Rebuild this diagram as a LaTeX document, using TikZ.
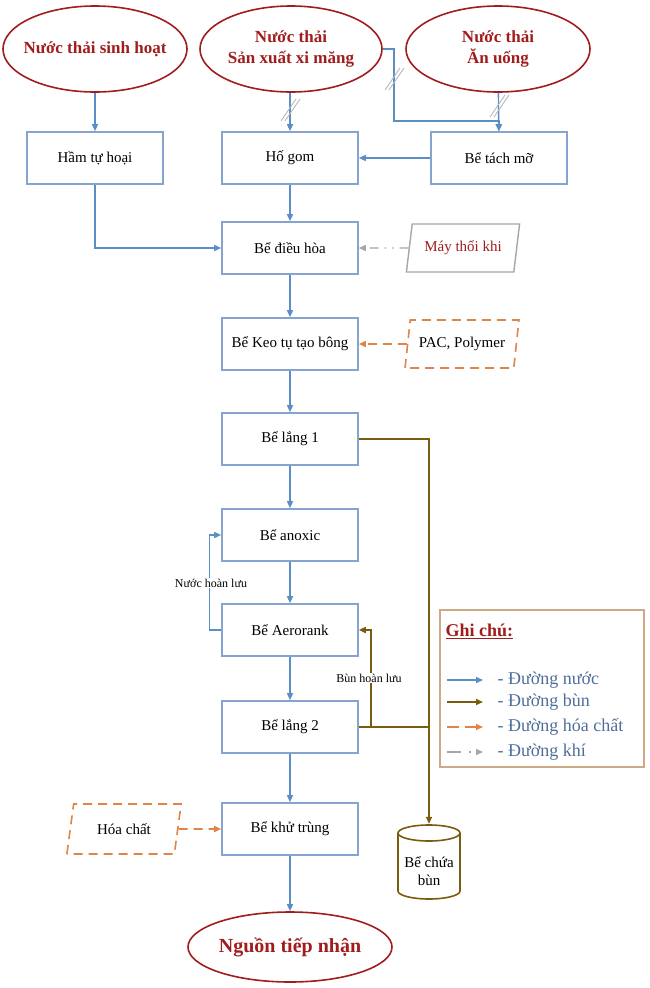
\documentclass[tikz,border=0pt]{standalone}
\usepackage{fontspec}
\setmainfont{Liberation Serif}
\usetikzlibrary{shapes.geometric,arrows.meta}
\definecolor{boxblue}{HTML}{86A4D0}
\definecolor{flowblue}{HTML}{5B8EC4}
\definecolor{srcred}{HTML}{A11C1C}
\definecolor{sludgecol}{HTML}{7A5C0E}
\definecolor{chemcol}{HTML}{E08447}
\definecolor{aircol}{HTML}{A6A6A6}
\definecolor{notetext}{HTML}{4F6E9A}
\definecolor{noteframe}{HTML}{CBAA85}

\tikzset{
  unit/.style={draw=boxblue, line width=1.6pt, minimum width=136pt, minimum height=52pt,
    font=\fontsize{15}{17}\selectfont},
  source/.style={ellipse, draw=srcred, line width=1.6pt, text=srcred,
    inner xsep=-28pt, inner ysep=0pt,
    minimum width=184pt, minimum height=86pt, align=center,
    font=\bfseries\fontsize{17}{21}\selectfont},
  input/.style={trapezium, trapezium left angle=77, trapezium right angle=103,
    trapezium stretches=true, minimum width=114pt, minimum height=48pt,
    font=\fontsize{15}{17}\selectfont},
  water/.style={draw=flowblue, line width=1.4pt, -{Triangle[length=7pt,width=6pt]}},
  sludge/.style={draw=sludgecol, line width=1.6pt},
  sludgeto/.style={sludge, -{Triangle[length=7pt,width=6pt]}},
  chem/.style={draw=chemcol, line width=1.6pt, dash pattern=on 9pt off 6pt,
    -{Triangle[length=7pt,width=6pt]}},
  air/.style={draw=aircol, line width=1.4pt, dash pattern=on 9pt off 6pt on 1.5pt off 6pt on 1.5pt off 6pt,
    -{Triangle[length=7pt,width=6pt]}},
  note/.style={font=\fontsize{12}{14}\selectfont, fill=white, inner sep=1pt},
  dslash/.pic={\draw[aircol!80, line width=0.9pt] (-9,11) -- (6,-11) (-5,11) -- (10,-11);},
  legend/.style={text=notetext, anchor=west, font=\fontsize{18}{20}\selectfont}
}

\begin{document}
\begin{tikzpicture}[x=1pt,y=-1pt]
\useasboundingbox (0,0) rectangle (650,988);

% sources
\node[source] (sinhhoat) at (95,49) {Nước thải sinh hoạt};
\node[source, minimum width=182pt] (ximang) at (291,49) {Nước thải\\Sản xuất xi măng};
\node[source] (anuong) at (498,49) {Nước thải\\Ăn uống};

% main line
\node[unit] (hamtuhoai) at (95,158) {Hầm tự hoại};
\node[unit] (hogom) at (290,158) {Hố gom};
\node[unit] (tachmo) at (499,158) {Bể tách mỡ};
\node[unit] (dieuhoa) at (290,248) {Bể điều hòa};
\node[unit] (keotu) at (290,344) {Bể Keo tụ tạo bông};
\node[unit] (lang1) at (290,439) {Bể lắng 1};
\node[unit] (anoxic) at (290,535) {Bể anoxic};
\node[unit] (aerorank) at (290,630) {Bể Aerorank};
\node[unit] (lang2) at (290,727) {Bể lắng 2};
\node[unit] (khutrung) at (290,829) {Bể khử trùng};
\node[source, minimum width=204pt, minimum height=70pt,
  font=\bfseries\fontsize{20}{22}\selectfont] (tiepnhan) at (290,947) {Nguồn tiếp nhận};

% inputs
\node[input, draw=aircol, line width=1.4pt, text=srcred] (maythoi) at (463,248) {Máy thổi khi};
\node[input, draw=chemcol, line width=1.6pt, dash pattern=on 9pt off 6pt] (pac) at (462,344) {PAC, Polymer};
\node[input, draw=chemcol, line width=1.6pt, dash pattern=on 9pt off 6pt,
  minimum width=115pt, minimum height=50pt] (hoachat) at (124,829) {Hóa chất};

% sludge tank
\node[minimum width=62pt, minimum height=76pt, inner sep=0pt] (bechua) at (429,862) {};
\draw[sludge, fill=white] (398,833) -- (398,891)
  arc[start angle=180, end angle=0, x radius=31, y radius=8] -- (460,833);
\draw[sludge] (429,833) ellipse[x radius=31, y radius=8];
\node[font=\fontsize{15}{18}\selectfont, align=center] (bechuatext) at (429,871) {Bể chứa\\bùn};

% water
\draw[water] (sinhhoat) -- (hamtuhoai);
\draw[water] (ximang.south -| hogom) -- (hogom);
\draw[water] (anuong) -- (tachmo);
\draw[water] (ximang.east) -- (394,49) |- (499,121) -- (tachmo.north);
\draw[water] (tachmo) -- (hogom);
\draw[water] (hamtuhoai.south) |- (dieuhoa.west);
\draw[water] (hogom) -- (dieuhoa);
\draw[water] (dieuhoa) -- (keotu);
\draw[water] (keotu) -- (lang1);
\draw[water] (lang1) -- (anoxic);
\draw[water] (anoxic) -- (aerorank);
\draw[water] (aerorank) -- (lang2);
\draw[water] (lang2) -- (khutrung);
\draw[water] (khutrung) -- (tiepnhan);
\draw[water] (aerorank.west) -- ++(-12,0) |- (anoxic.west);
\node[note] at (211,583) {Nước hoàn lưu};

% pipe breaks
\pic at (290,110) {dslash};
\pic at (499,106) {dslash};
\pic at (394,79) {dslash};

% air and chemicals
\draw[air] (maythoi) -- (dieuhoa);
\draw[chem] (pac) -- (keotu);
\draw[chem] (hoachat) -- (khutrung);

% sludge
\draw[sludgeto] (lang1.east) -| (bechua.north);
\draw[sludge] (lang2.east) -- (lang2.east -| bechua.north);
\draw[sludgeto] ([xshift=12pt]lang2.east) |- (aerorank.east);
\node[note] at (369,678) {Bùn hoàn lưu};

% legend
\draw[noteframe, line width=1.2pt] (440,610) rectangle (644,767);
\node[anchor=west, text=srcred, font=\bfseries\fontsize{18}{20}\selectfont] at (442,631) {\underline{Ghi chú:}};
\draw[water] (447,680) -- (483,680);
\draw[sludgeto] (447,702) -- (483,702);
\draw[chem, dash pattern=on 12pt off 6pt] (447,727) -- (483,727);
\draw[air, dash pattern=on 14pt off 8pt on 1.5pt off 8pt] (447,752) -- (483,752);
\node[legend] at (494,680) {- Đường nước};
\node[legend] at (494,702) {- Đường bùn};
\node[legend] at (494,727) {- Đường hóa chất};
\node[legend] at (494,752) {- Đường khí};
\end{tikzpicture}
\end{document}
